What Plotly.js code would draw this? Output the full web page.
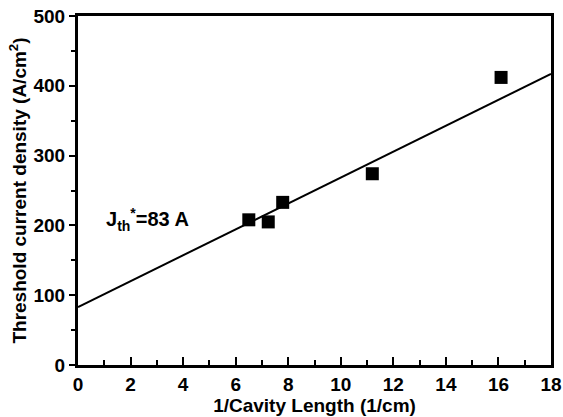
<!DOCTYPE html>
<html><head><meta charset="utf-8">
<script src="https://cdn.plot.ly/plotly-3.0.1.min.js"></script>
<style>body{margin:0;background:#fff}#c{width:563px;height:417px}</style>
</head><body><div id="c"></div>
<script>
const xData = [6.5, 7.24, 7.79, 11.2, 16.1];
const yData = [208, 205, 233, 274, 412];
const fitX = [0, 18];
const fitY = [83, 417];
const xTicks = [0,2,4,6,8,10,12,14,16,18];
const yTicks = [0,100,200,300,400,500];

const fam = 'Liberation Sans, Arial, sans-serif';
const tickFont = {family: fam, size: 19, color: '#000', weight: 900};
const titleFont = {family: fam, size: 19, color: '#000', weight: 'bold'};
const traces = [
  {x: fitX, y: fitY, mode: 'lines', line: {color: '#000', width: 2}, showlegend: false, hoverinfo: 'skip'},
  {x: xData, y: yData, mode: 'markers', marker: {symbol: 'square', size: 13, color: '#000'}, showlegend: false}
];
const layout = {
  width: 563, height: 417,
  font: {family: fam, size: 19, color: '#000', weight: 'bold'},
  margin: {l: 78, r: 12, t: 16, b: 52},
  paper_bgcolor: '#fff', plot_bgcolor: '#fff',
  xaxis: {range: [0, 18], tickmode: 'array', tickvals: xTicks, ticks: 'inside', ticklen: 8, tickwidth: 2, tickcolor: '#000',
    minor: {dtick: 1, tick0: 0, ticks: 'inside', ticklen: 5, tickwidth: 2, tickcolor: '#000'},
    showgrid: false, zeroline: false, showline: true, mirror: true, linecolor: '#000', linewidth: 3,
    tickfont: tickFont,
    title: {text: '1/Cavity Length (1/cm)', standoff: 2, font: titleFont}},
  yaxis: {range: [0, 500], tickmode: 'array', tickvals: yTicks, ticks: 'outside', ticklen: 6, tickwidth: 2, tickcolor: '#000',
    minor: {dtick: 50, tick0: 0, ticks: 'outside', ticklen: 4, tickwidth: 2, tickcolor: '#000'},
    showgrid: false, zeroline: false, showline: true, mirror: true, linecolor: '#000', linewidth: 3,
    tickfont: tickFont,
    title: {text: 'Threshold current density (A/cm<sup>2</sup>)', standoff: 2, font: titleFont}},
  annotations: [{x: 1.0, y: 208, xref: 'x', yref: 'y', xanchor: 'left', yanchor: 'middle', showarrow: false,
    text: '<b>J<sub>th</sub><sup>*</sup>=83 A</b>', font: {family: fam, size: 20, color: '#000'}}]
};
Plotly.newPlot('c', traces, layout, {staticPlot: true});
</script></body></html>
